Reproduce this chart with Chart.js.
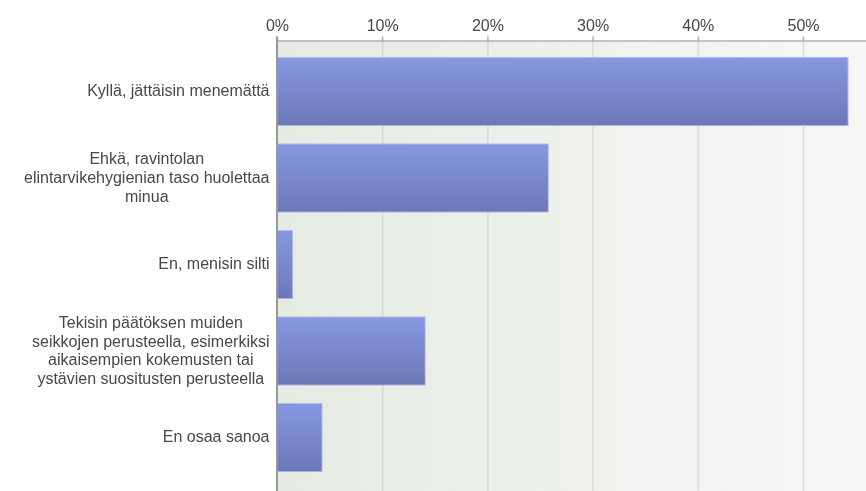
<!DOCTYPE html>
<html>
<head>
<meta charset="utf-8">
<title>Ravintolan elintarvikehygienia</title>
<script src="https://cdn.jsdelivr.net/npm/chart.js@4.4.1/dist/chart.umd.min.js"></script>
<style>
  html, body { margin: 0; padding: 0; background: #fff; }
  #wrap { width: 866px; height: 491px; position: relative; }
</style>
</head>
<body>
<div id="wrap"><canvas id="chart"></canvas></div>
<script>
// answer options, one array entry per drawn line
const categories = [
  ['Kyllä, jättäisin menemättä'],
  ['Ehkä, ravintolan', 'elintarvikehygienian taso huolettaa', 'minua'],
  ['En, menisin silti'],
  ['Tekisin päätöksen muiden', 'seikkojen perusteella, esimerkiksi', 'aikaisempien kokemusten tai', 'ystävien suositusten perusteella'],
  ['En osaa sanoa'],
];
const shares = [54.3, 25.8, 1.5, 14.1, 4.3];
const tickValues = [0, 10, 20, 30, 40, 50];

const FONT = '"Liberation Sans", Arial, sans-serif';
const BAR_FRAC = 0.803;

// plot backdrop, grid and axis lines reach a bit past the category bands
const backdrop = {
  id: 'backdrop',
  beforeDatasetsDraw(chart) {
    const { ctx, chartArea } = chart;
    const x = chart.scales.x;
    const top = 41, bottom = chart.height;
    ctx.save();
    const g = ctx.createLinearGradient(chartArea.left, 0, chartArea.right, 0);
    g.addColorStop(0, '#e5ebe3');
    g.addColorStop(1, '#f7f8f6');
    ctx.fillStyle = g;
    ctx.fillRect(chartArea.left, top, chartArea.right - chartArea.left, bottom - top);

    ctx.strokeStyle = 'rgba(200,206,200,0.6)';
    ctx.lineWidth = 1.5;
    tickValues.forEach(v => {
      if (v === 0) return;
      const px = x.getPixelForValue(v);
      ctx.beginPath();
      ctx.moveTo(px, top);
      ctx.lineTo(px, bottom);
      ctx.stroke();
    });

    // top axis with tick marks
    ctx.strokeStyle = '#b0b0b0';
    ctx.lineWidth = 1.5;
    ctx.beginPath();
    ctx.moveTo(chartArea.left, top);
    ctx.lineTo(chartArea.right, top);
    ctx.stroke();
    tickValues.forEach(v => {
      const px = x.getPixelForValue(v);
      ctx.beginPath();
      ctx.moveTo(px, top - 4.5);
      ctx.lineTo(px, top);
      ctx.stroke();
    });

    // left axis
    ctx.strokeStyle = '#999999';
    ctx.lineWidth = 2;
    ctx.beginPath();
    ctx.moveTo(chartArea.left - 0.5, top - 4.5);
    ctx.lineTo(chartArea.left - 0.5, bottom);
    ctx.stroke();
    ctx.restore();
  },
  afterDraw(chart) {
    // category labels: lines centred, whole block right aligned
    const { ctx } = chart;
    const y = chart.scales.y;
    const right = 269.5, lh = 18.8;
    ctx.save();
    ctx.font = '16px ' + FONT;
    ctx.fillStyle = '#484848';
    ctx.textAlign = 'center';
    ctx.textBaseline = 'middle';
    categories.forEach((lines, i) => {
      const w = Math.max(...lines.map(s => ctx.measureText(s).width));
      const cx = right - w / 2;
      const cy = y.getPixelForValue(i);
      const y0 = cy - (lines.length - 1) * lh / 2;
      lines.forEach((s, k) => ctx.fillText(s, cx, y0 + k * lh + 0.5));
    });
    ctx.restore();
  }
};

function barFill(c) {
  const plain = '#7a88cc';
  if (c.type !== 'data') return plain;
  const ys = c.chart.scales.y;
  if (!ys) return plain;
  const cy = ys.getPixelForValue(c.dataIndex);
  const band = Math.abs(ys.getPixelForValue(1) - ys.getPixelForValue(0));
  const h = band * BAR_FRAC / 2;
  if (!isFinite(cy) || !isFinite(h) || h <= 0) return plain;
  const g = c.chart.ctx.createLinearGradient(0, cy - h, 0, cy + h);
  g.addColorStop(0, '#8798e2');
  g.addColorStop(1, '#6c78b6');
  return g;
}

new Chart(document.getElementById('chart'), {
  type: 'bar',
  data: {
    labels: categories.map(l => l.join(' ')),
    datasets: [{
      data: shares,
      backgroundColor: barFill,
      borderColor: '#b6bde8',
      borderWidth: 1,
      borderSkipped: 'start',
      categoryPercentage: 1,
      barPercentage: BAR_FRAC,
    }]
  },
  options: {
    indexAxis: 'y',
    responsive: true,
    maintainAspectRatio: false,
    animation: false,
    layout: { padding: { left: 277.5, right: 0, top: 11.9, bottom: 10.25 } },
    plugins: { legend: { display: false }, tooltip: { enabled: false } },
    scales: {
      x: {
        position: 'top',
        min: 0,
        max: 55.94,
        grid: { display: false },
        border: { display: false },
        afterBuildTicks(scale) {
          scale.ticks = tickValues.map(v => ({ value: v }));
        },
        ticks: {
          font: { family: FONT, size: 16 },
          color: '#484848',
          padding: 4.6,
          maxRotation: 0,
          autoSkip: false,
          callback: v => v + '%',
        }
      },
      y: {
        display: false,
        offset: true,
      }
    }
  },
  plugins: [backdrop]
});
</script>
</body>
</html>
